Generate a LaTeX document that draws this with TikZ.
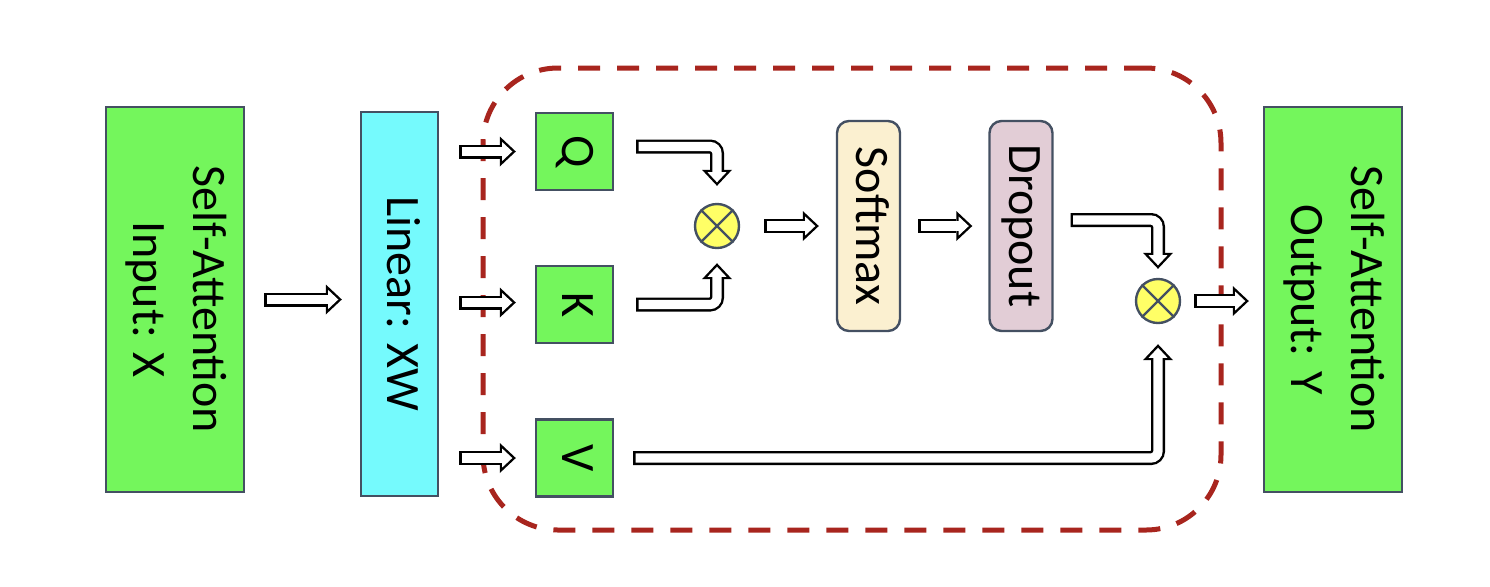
\documentclass[tikz,border=0pt]{standalone}
\usepackage{fontspec}
\setmainfont{Carlito}
\usepackage{graphicx}
\usetikzlibrary{arrows.meta,calc}
\definecolor{bgreen}{RGB}{116,246,92}
\definecolor{bcyan}{RGB}{117,250,253}
\definecolor{bcream}{RGB}{251,240,208}
\definecolor{bmauve}{RGB}{226,205,214}
\definecolor{byellow}{RGB}{255,255,102}
\definecolor{bborder}{RGB}{68,80,98}
\definecolor{dred}{RGB}{168,37,30}
\tikzset{
  box/.style={draw=bborder, line width=1.2pt, inner sep=0pt, font=\fontsize{24}{30}\selectfont},
  sqbox/.style={box, fill=bgreen, minimum width=38.5pt, minimum height=38.5pt},
  tallbox/.style={box, rounded corners=6pt, minimum width=31.5pt, minimum height=105pt},
  mult/.style={circle, draw=bborder, fill=byellow, line width=1.2pt, minimum size=22pt, inner sep=0pt},
  harrow/.style={line width=7pt, black, rounded corners=3.5pt,
    -{Triangle[length=8pt,width=15pt,line width=0pt]},
    postaction={draw, white, line width=4.6pt, shorten <=1.2pt, shorten >=1.75pt,
      -{Triangle[length=5.05pt,width=9.47pt,line width=0pt]}}},
  frame/.style={draw=dred, line width=2.5pt, dash pattern=on 11pt off 8.5pt, rounded corners=37.5pt,
    minimum width=369pt, minimum height=231pt, inner sep=0pt}
}
\newcommand{\rtext}[1]{\rotatebox{-90}{\begin{tabular}{@{}c@{}}#1\end{tabular}}}
\begin{document}
\begin{tikzpicture}[x=0.5pt,y=-0.5pt]
\useasboundingbox (0,0) rectangle (1490,586);
\fill[white] (0,0) rectangle (1490,586);
% dashed frame
\node[frame] (fr) at (852,299) {};
% nodes
\node[box, fill=bgreen, minimum width=69pt, minimum height=192.5pt] (inp) at (175,299.5) {\rtext{Self-Attention\\Input: X}};
\node[box, fill=bcyan, minimum width=38.5pt, minimum height=192pt] (lin) at (399.5,304) {\rtext{Linear: XW}};
\node[sqbox] (Q) at (574.5,151.5) {\rtext{Q}};
\node[sqbox] (K) at (574.5,304.5) {\rtext{K}};
\node[sqbox] (V) at (574.5,458) {\rtext{V}};
\node[mult] (m1) at (717,226) {};
\node[tallbox, fill=bcream] (soft) at (868.5,226) {\rtext{Softmax}};
\node[tallbox, fill=bmauve] (drop) at (1021,226) {\rtext{Dropout}};
\node[mult] (m2) at (1158,301) {};
\node[box, fill=bgreen, minimum width=69pt, minimum height=192.5pt] (out) at (1333,299.5) {\rtext{Self-Attention\\Output: Y}};
% crosses
\foreach \m in {m1,m2}{
  \draw[bborder, line width=1.2pt] (\m.45) -- (\m.225);
  \draw[bborder, line width=1.2pt] (\m.135) -- (\m.315);
}
% straight arrows
\draw[harrow] ($(inp.east)+(9.5pt,0)$) -- ($(inp.east -| lin.west)+(-9pt,0)$);
\draw[harrow] ($(lin.east |- Q.west)+(10pt,0)$) -- ($(Q.west)+(-9.5pt,0)$);
\draw[harrow] ($(lin.east |- K.west)+(10pt,1pt)$) -- ($(K.west)+(-9.5pt,1pt)$);
\draw[harrow] ($(lin.east |- V.west)+(10pt,0)$) -- ($(V.west)+(-9.5pt,0)$);
\draw[harrow] ($(m1.east)+(12pt,0)$) -- ($(soft.west)+(-8.5pt,0)$);
\draw[harrow] ($(soft.east)+(8.5pt,0)$) -- ($(drop.west)+(-8pt,0)$);
\draw[harrow] ($(m2.east)+(6.5pt,0)$) -- ($(m2.east -| out.west)+(-7pt,0)$);
% bent arrows
\draw[harrow] ($(Q.east)+(11pt,2.5pt)$) -| ($(m1.north)+(0,8.5pt)$);
\draw[harrow] ($(K.east)+(11pt,0)$) -| ($(m1.south)+(0,-7pt)$);
\draw[harrow] ($(drop.east)+(8.5pt,3pt)$) -| ($(m2.north)+(0,4.5pt)$);
\draw[harrow] ($(V.east)+(9.5pt,0)$) -| ($(m2.south)+(0,-10pt)$);
\end{tikzpicture}
\end{document}
